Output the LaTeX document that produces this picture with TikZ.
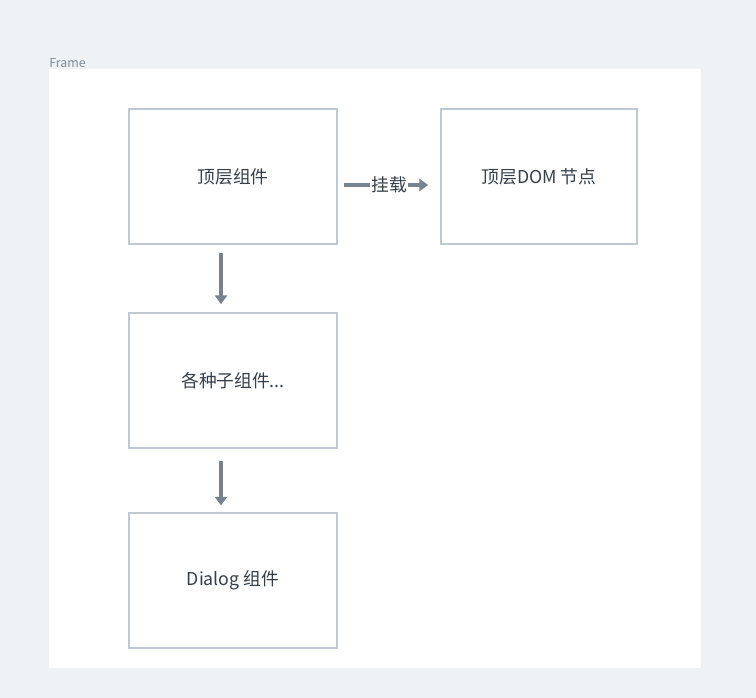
\documentclass[tikz,border=0pt]{standalone}
\usepackage{fontspec}
\setmainfont{Noto Sans CJK SC}
\usetikzlibrary{arrows.meta}
\definecolor{pagebg}{HTML}{EFF2F5}
\definecolor{boxline}{HTML}{BEC9D3}
\definecolor{arrowgray}{HTML}{778391}
\definecolor{textdark}{HTML}{353F4A}
\definecolor{framegray}{HTML}{7F8B98}
\tikzset{block/.style={draw=boxline,line width=1.3pt,fill=white,text=textdark,font=\fontsize{13.3}{15}\selectfont,
   inner sep=0pt,minimum height=101.25pt},
 arrow/.style={-{Triangle[width=9pt,length=6.5pt]},draw=arrowgray,line width=2.8pt}}

\begin{document}
\begin{tikzpicture}[x=0.75pt,y=-0.75pt]
 \useasboundingbox[fill=pagebg] (0,0) rectangle (756,698);
 \fill[black!6] (50,70) rectangle (703,670);
 \fill[white] (49,69) rectangle (701,668);
 \node[anchor=south west,inner sep=0pt,text=framegray,font=\fontsize{9.3}{10}\selectfont] (framelabel) at (49,67.5) {Frame};
 \node[block,minimum width=156pt] (top) at (233,176.5) {顶层组件};
 \node[block,minimum width=147pt] (dom) at (539,176.5) {顶层DOM 节点};
 \node[block,minimum width=156pt] (child) at (233,380.5) {各种子组件...};
 \node[block,minimum width=156pt] (dialog) at (233,580.5) {Dialog 组件};
 \draw[arrow,shorten <=4.5pt,shorten >=9pt] ([yshift=-6.4pt]top.east) -- ([yshift=-6.4pt]dom.west)
  node[midway,fill=white,inner sep=1pt,text=textdark,font=\fontsize{13.3}{15}\selectfont] {挂载};
 \draw[arrow,shorten <=6pt,shorten >=6pt] ([xshift=-9pt]top.south) -- ([xshift=-9pt]child.north);
 \draw[arrow,shorten <=9pt,shorten >=5pt] ([xshift=-9pt]child.south) -- ([xshift=-9pt]dialog.north);
\end{tikzpicture}
\end{document}
